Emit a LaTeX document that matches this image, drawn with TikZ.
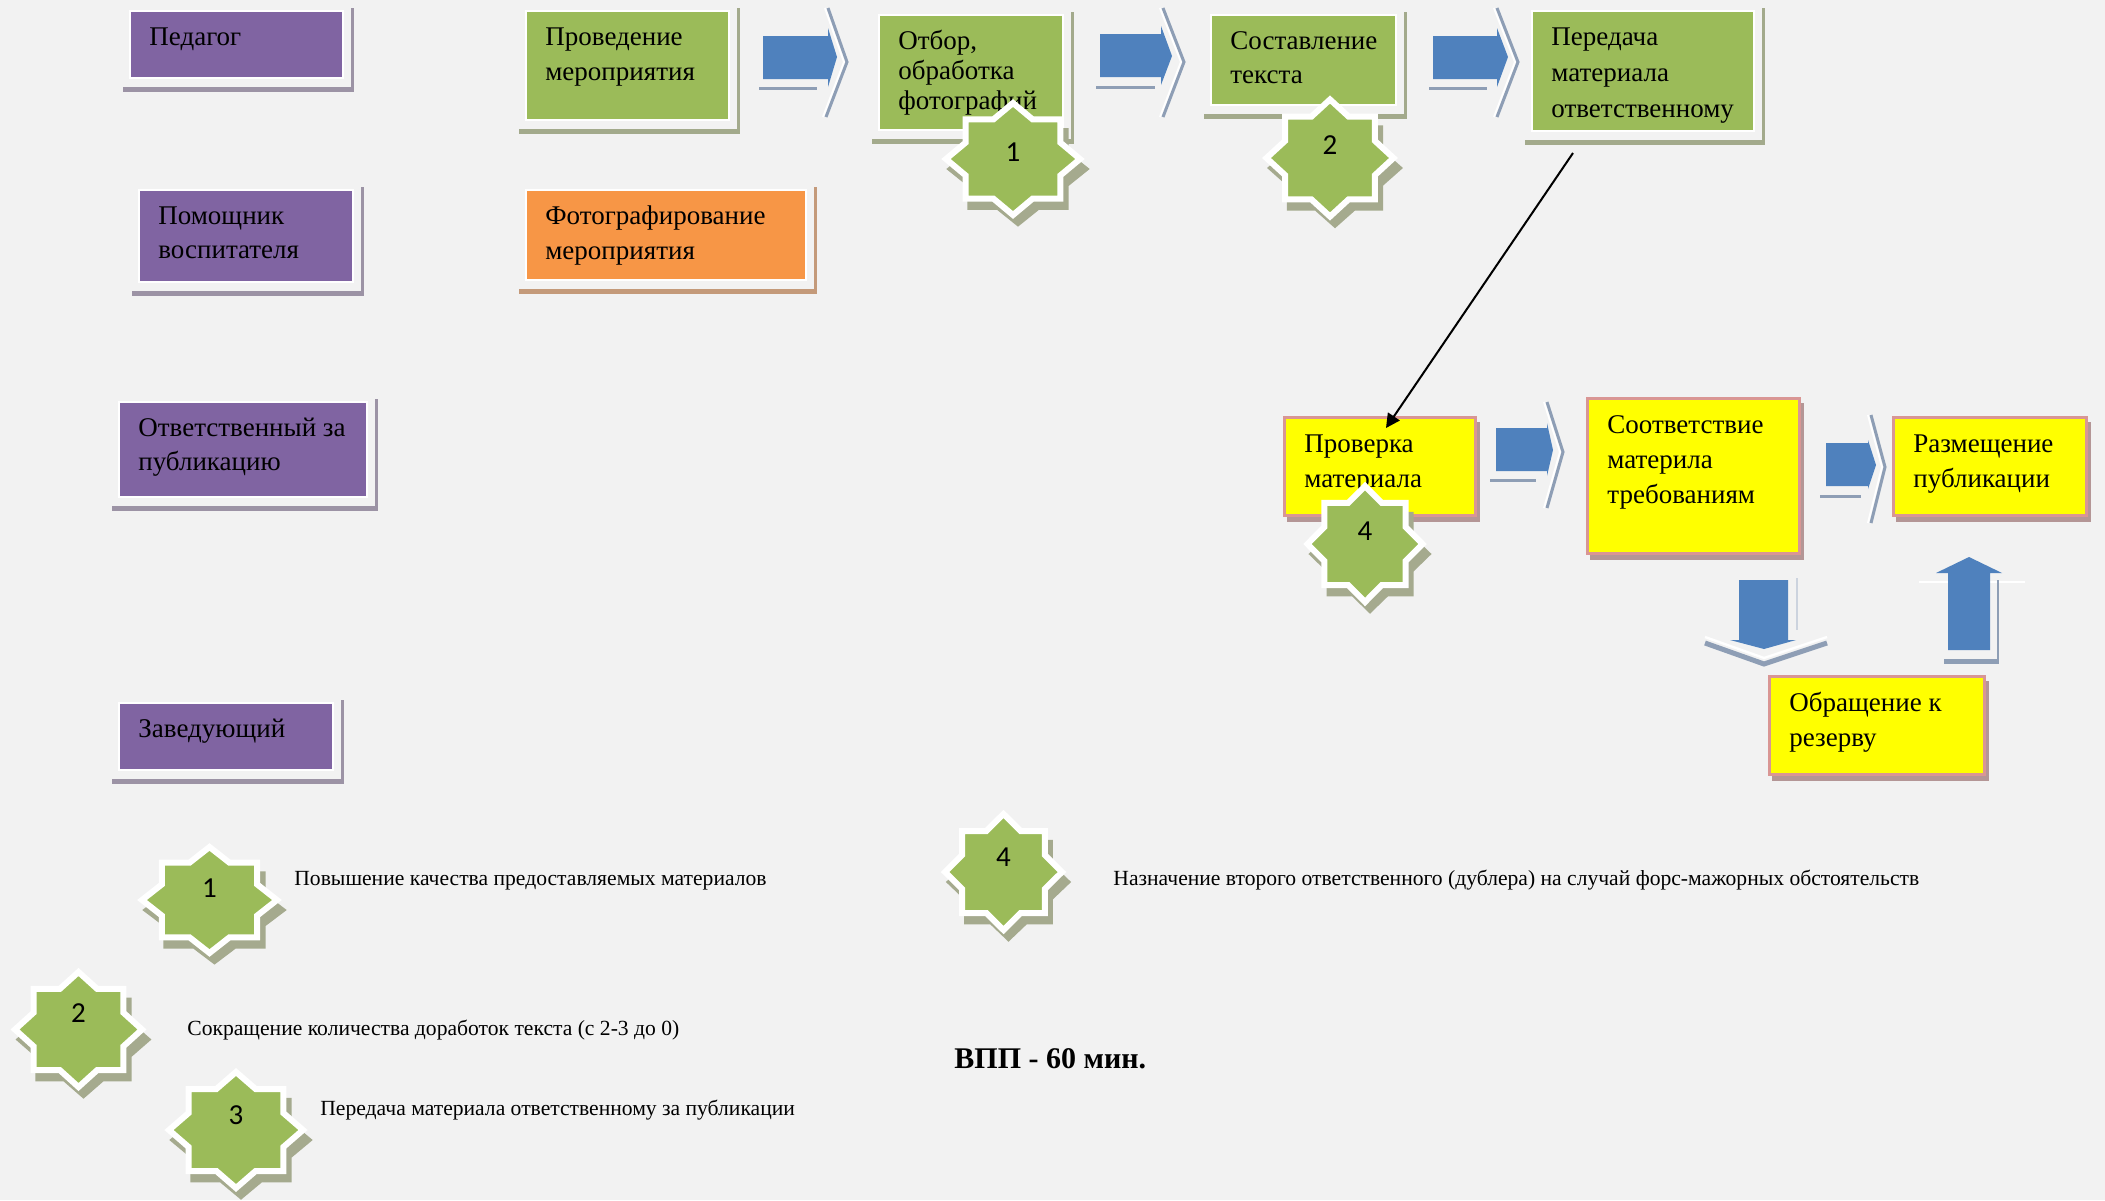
\documentclass[tikz,border=0pt]{standalone}
\usepackage{fontspec}
\setmainfont{Liberation Serif}
\newfontfamily\digitfont{Carlito}
\usetikzlibrary{fit,calc,arrows.meta}

\definecolor{bg}{HTML}{F2F2F2}
\definecolor{purp}{HTML}{8064A2}
\definecolor{purpsh}{HTML}{9C93A5}
\definecolor{grn}{HTML}{9BBB59}
\definecolor{grnsh}{HTML}{A3AA8C}
\definecolor{orng}{HTML}{F79646}
\definecolor{orngsh}{HTML}{C49A7A}
\definecolor{ylw}{HTML}{FFFF00}
\definecolor{ylwbd}{HTML}{D99694}
\definecolor{ylwsh}{HTML}{B49696}
\definecolor{blu}{HTML}{4F81BD}
\definecolor{blush}{HTML}{8E9EB5}
\definecolor{starsh}{HTML}{A5AA8E}

\tikzset{
  boxtxt/.style={inner sep=0pt, anchor=base west},
  legtxt/.style={inner sep=0pt, anchor=base west, font=\fontsize{10.8}{13}\selectfont},
  digit/.style={inner sep=0pt, font=\digitfont\fontsize{14.5}{16}\selectfont},
  chev/.style={draw=blush, line width=1.5pt, line join=miter},
  chevhi/.style={draw=white, line width=1pt},
  barrow/.style={fill=blu},
}

% star outline: cx cy rx ry
\newcommand\starpts[4]{%
 (#1+#3,#2) -- (#1+0.7071*#3,#2+0.2929*#4) -- (#1+0.7071*#3,#2+0.7071*#4) -- (#1+0.2929*#3,#2+0.7071*#4) -- (#1,#2+#4) -- (#1-0.2929*#3,#2+0.7071*#4) -- (#1-0.7071*#3,#2+0.7071*#4) -- (#1-0.7071*#3,#2+0.2929*#4) -- (#1-#3,#2) -- (#1-0.7071*#3,#2-0.2929*#4) -- (#1-0.7071*#3,#2-0.7071*#4) -- (#1-0.2929*#3,#2-0.7071*#4) -- (#1,#2-#4) -- (#1+0.2929*#3,#2-0.7071*#4) -- (#1+0.7071*#3,#2-0.7071*#4) -- (#1+0.7071*#3,#2-0.2929*#4) -- cycle}

% name cx cy rx ry label labely
\newcommand\drawstar[7]{%
  \fill[starsh] \starpts{#2+5}{#3+10}{1.07*#4}{1.03*#5};
  \filldraw[fill=grn, draw=white, line width=3pt, line join=miter] \starpts{#2}{#3}{#4}{#5};
  \node[digit] (#1) at (#2,#7) {#6};
}

% name L T R B fill shadow text skip
\newcommand\pbox[9]{%
  \fill[#7] (#2-7,#5+9) rectangle (#4+11,#5+14);
  \fill[#7] (#4+8,#3-3) rectangle (#4+11,#5+14);
  \node[fit={(#2,#3)(#4,#5)}, inner sep=0pt, fill=#6, draw=white, line width=1pt] (#1) {};
  \node[boxtxt, font=\fontsize{13.5}{#9}\selectfont] (#1t) at (#2+19,#3+34) {\begin{tabular}[t]{@{}l@{}}#8\end{tabular}};
}

% name L T R B text
\newcommand\ybox[6]{%
  \fill[ylwsh] (#2+3,#3+5) rectangle (#4+5,#5+7);
  \node[fit={(#2,#3)(#4,#5)}, inner sep=0pt, fill=ylw, draw=ylwbd, line width=1.5pt] (#1) {};
  \node[boxtxt, font=\fontsize{13.5}{17.5}\selectfont] (#1t) at (#2+20,#3+35) {\begin{tabular}[t]{@{}l@{}}#6\end{tabular}};
}

\begin{document}
\begin{tikzpicture}[x=0.5pt,y=-0.5pt]
\useasboundingbox (0,0) rectangle (2105,1200);
\fill[bg] (0,0) rectangle (2105,1200);

% left column (roles)
\pbox{ped}{130}{11}{343}{78}{purp}{purpsh}{Педагог}{17.5}
\pbox{pom}{139}{190}{353}{282}{purp}{purpsh}{Помощник\\воспитателя}{17}
\pbox{otv}{119}{402}{367}{497}{purp}{purpsh}{Ответственный за\\публикацию}{17}
\pbox{zav}{119}{703}{333}{770}{purp}{purpsh}{Заведующий}{17.5}

% top row
\pbox{prov}{526}{11}{729}{120}{grn}{grnsh}{Проведение\\мероприятия}{17.5}
\pbox{otb}{879}{15}{1063}{130}{grn}{grnsh}{Отбор,\\обработка\\фотографий}{15}
\pbox{sost}{1211}{15}{1396}{105}{grn}{grnsh}{Составление\\текста}{17}
\pbox{pered}{1532}{11}{1754}{131}{grn}{grnsh}{Передача\\материала\\ответственному}{18}
\pbox{foto}{526}{190}{806}{280}{orng}{orngsh}{Фотографирование\\мероприятия}{17.5}

% yellow boxes
\ybox{check}{1284}{417}{1475}{515}{Проверка\\материала}
\ybox{sootv}{1587}{398}{1799}{553}{Соответствие\\материла\\требованиям}
\ybox{razm}{1893}{417}{2086}{515}{Размещение\\публикации}
\ybox{obr}{1769}{676}{1984}{774}{Обращение к\\резерву}

% block arrows (top row)
\draw[chevhi] (825,8) -- (844,62) -- (823,117);
\draw[chev] (828,8) -- (847,62) -- (826,117);
\draw[chev] (759,88) -- (817,88);
\fill[barrow] (763,36) -- (828,36) -- (828,28) -- (837,57) -- (828,87) -- (828,79) -- (763,79) -- cycle;

\draw[chevhi] (1160,8) -- (1181,62) -- (1160,117);
\draw[chev] (1163,8) -- (1184,62) -- (1163,117);
\draw[chev] (1096,87) -- (1155,87);
\fill[barrow] (1100,34) -- (1161,34) -- (1161,26) -- (1172,56) -- (1161,85) -- (1161,77) -- (1100,77) -- cycle;

\draw[chevhi] (1494,8) -- (1515,62) -- (1494,117);
\draw[chev] (1497,8) -- (1518,62) -- (1497,117);
\draw[chev] (1429,88) -- (1487,88);
\fill[barrow] (1433,36) -- (1497,36) -- (1497,28) -- (1508,57) -- (1497,87) -- (1497,79) -- (1433,79) -- cycle;

% block arrows (lower row)
\draw[chevhi] (1544,402) -- (1560,452) -- (1544,508);
\draw[chev] (1547,402) -- (1563,452) -- (1547,508);
\draw[chev] (1490,480) -- (1536,480);
\fill[barrow] (1496,428) -- (1547,428) -- (1547,423) -- (1553,450) -- (1547,476) -- (1547,471) -- (1496,471) -- cycle;

\draw[chevhi] (1868,415) -- (1882,467) -- (1868,523);
\draw[chev] (1871,415) -- (1885,467) -- (1871,523);
\draw[chev] (1820,496) -- (1861,496);
\fill[barrow] (1826,443) -- (1868,443) -- (1868,440) -- (1876,465) -- (1868,489) -- (1868,486) -- (1826,486) -- cycle;

% down arrow
\draw[draw=white, line width=1.2pt] (1705,637) -- (1764,658) -- (1827,637);
\draw[draw=blush, line width=2.5pt, line join=miter] (1705,643) -- (1764,664) -- (1827,643);
\draw[draw=blush!45, line width=0.8pt] (1797,578) -- (1797,630);
\fill[barrow] (1739,580) -- (1788,580) -- (1788,640) -- (1796,640) -- (1764,649) -- (1730,640) -- (1739,640) -- cycle;

% up arrow
\draw[draw=white, line width=1pt] (1919,582) -- (2025,582);
\draw[draw=blush, line width=1pt] (1998,580) -- (1998,661);
\draw[draw=blush, line width=2.5pt] (1944,661) -- (1999,661);
\fill[barrow] (1948,650) -- (1948,573) -- (1936,573) -- (1969,557) -- (2002,573) -- (1990,573) -- (1990,650) -- cycle;

% stars on the flow
\drawstar{st1}{1013}{159}{67}{56}{1}{152}
\drawstar{st2}{1330}{158}{63.5}{58.5}{2}{145}
\drawstar{st4}{1365}{544}{57.5}{58}{4}{531}

% connector
\coordinate (pA) at (1573,153);
\coordinate (pB) at (1386,428);
\draw[line width=1pt, -{Triangle[length=7pt,width=7pt]}] (pA) -- (pB);

% legend
\drawstar{lg1}{209.5}{900}{67.5}{53}{1}{888}
\drawstar{lg2}{78.5}{1029.5}{63.5}{57.5}{2}{1013}
\drawstar{lg3}{236}{1130}{67}{58}{3}{1115}
\drawstar{lg4}{1003.5}{872}{58.5}{58}{4}{857}

\node[legtxt] (t1) at (294,885) {Повышение качества предоставляемых материалов};
\node[legtxt] (t2) at (187,1035) {Сокращение количества доработок текста (с 2-3 до 0)};
\node[legtxt] (t3) at (320,1115) {Передача материала ответственному за публикации};
\node[legtxt] (t4) at (1113,885) {Назначение второго ответственного (дублера) на случай форс-мажорных обстоятельств};

\node[inner sep=0pt, anchor=base west, font=\bfseries\fontsize{15}{18}\selectfont] (vpp) at (954,1068) {ВПП - 60 мин.};
\end{tikzpicture}
\end{document}
